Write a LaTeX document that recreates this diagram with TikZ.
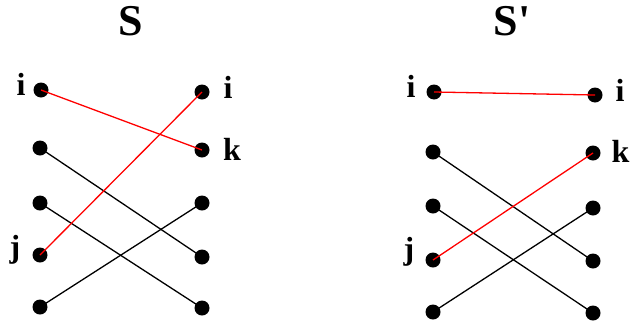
\documentclass[tikz,border=0pt]{standalone}
\usepackage{fontspec}
\setmainfont{Liberation Serif}
\begin{document}
\begin{tikzpicture}[x=1pt,y=-1pt,
  dot/.style={circle,fill=black,minimum size=15pt,inner sep=0pt},
  lbl/.style={anchor=base,inner sep=0pt,font=\fontsize{32}{32}\selectfont\bfseries},
  ttl/.style={anchor=base,inner sep=0pt,font=\fontsize{44}{44}\selectfont\bfseries},
  blk/.style={draw=black,line width=1.3pt},
  redl/.style={draw=red,line width=1.3pt}]
\useasboundingbox (0,0) rectangle (631,327);
% left group S
\node[ttl] (tS) at (131,35) {S};
\node[dot] (a1) at (41,90) {};
\node[dot] (a2) at (40,148) {};
\node[dot] (a3) at (40,203) {};
\node[dot] (a4) at (40,255) {};
\node[dot] (a5) at (40,307) {};
\node[dot] (b1) at (202,92) {};
\node[dot] (b2) at (202,150) {};
\node[dot] (b3) at (202,203) {};
\node[dot] (b4) at (202,257) {};
\node[dot] (b5) at (202,308) {};
\node[lbl] (la1) at (21,95) {i};
\node[lbl] (la4) at (15,257) {j};
\node[lbl] (lb1) at (228,98) {i};
\node[lbl] (lb2) at (232,160) {k};
\draw[blk] (a2.center) -- (b4.center);
\draw[blk] (a3.center) -- (b5.center);
\draw[blk] (a5.center) -- (b3.center);
\draw[redl] (a1.center) -- (b2.center);
\draw[redl] (a4.center) -- (b1.center);
% right group S'
\node[ttl] (tS2) at (512,35) {S\textquotesingle};
\node[dot] (c1) at (434,92) {};
\node[dot] (c2) at (433,152) {};
\node[dot] (c3) at (433,206) {};
\node[dot] (c4) at (433,260) {};
\node[dot] (c5) at (433,312) {};
\node[dot] (d1) at (595,95) {};
\node[dot] (d2) at (593,153) {};
\node[dot] (d3) at (593,208) {};
\node[dot] (d4) at (593,261) {};
\node[dot] (d5) at (593,313) {};
\node[lbl] (lc1) at (411,97) {i};
\node[lbl] (lc4) at (409,259) {j};
\node[lbl] (ld1) at (620,101) {i};
\node[lbl] (ld2) at (620.5,162) {k};
\draw[blk] (c2.center) -- (d4.center);
\draw[blk] (c3.center) -- (d5.center);
\draw[blk] (c5.center) -- (d3.center);
\draw[redl] (c1.center) -- (d1.center);
\draw[redl] (c4.center) -- (d2.center);
\end{tikzpicture}
\end{document}
